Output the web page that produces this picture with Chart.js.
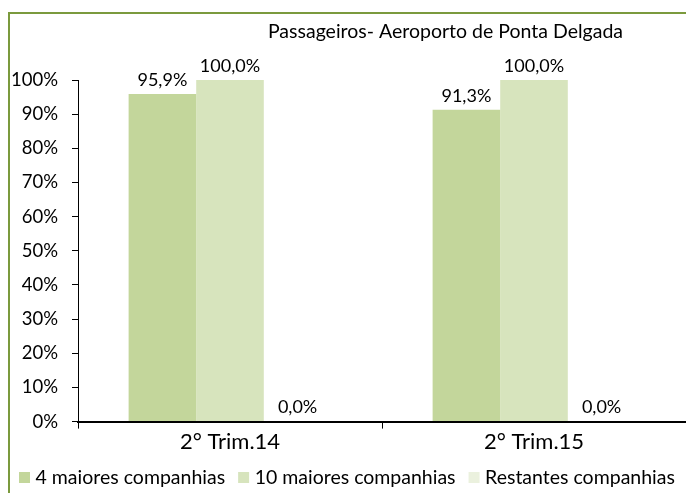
<!DOCTYPE html>
<html lang="pt-PT">
<head>
    <meta charset="UTF-8">
    <title>Passageiros- Aeroporto de Ponta Delgada</title>
    <script src="https://cdn.jsdelivr.net/npm/chart.js"></script>
    <style>
        html, body { margin: 0; padding: 0; overflow: hidden; background: #fff; }
        #moldura { position: absolute; left: 8px; top: 12px; width: 720px; height: 520px; border: 2px solid #7b9a3d; box-sizing: border-box; }
        #grafico { position: absolute; left: 0; top: 0; }
    </style>
</head>
<body>
    <div id="moldura"></div>
    <canvas id="grafico" width="686" height="493"></canvas>

    <script>
    // Dados
    const titulo = 'Passageiros- Aeroporto de Ponta Delgada';
    const trimestres = ['2\u00b0 Trim.14', '2\u00b0 Trim.15'];
    const maiores4 = [95.9, 91.3];
    const maiores10 = [100.0, 100.0];
    const restantes = [0.0, 0.0];

    const fonte = 'Lato, "Open Sans", sans-serif';

    // Rótulos de valor por cima das barras
    const rotulosValor = {
        id: 'rotulosValor',
        afterDatasetsDraw(chart) {
            const ctx = chart.ctx;
            ctx.save();
            ctx.font = '18px ' + fonte;
            ctx.fillStyle = '#000';
            ctx.textAlign = 'center';
            ctx.textBaseline = 'bottom';
            chart.data.datasets.forEach((ds, i) => {
                chart.getDatasetMeta(i).data.forEach((bar, j) => {
                    const txt = ds.data[j].toFixed(1).replace('.', ',') + '%';
                    ctx.fillText(txt, bar.x, bar.y - 5);
                });
            });
            ctx.restore();
        }
    };

    // Título e legenda desenhados à mão (a legenda do Chart.js não cabe numa linha)
    const tituloLegenda = {
        id: 'tituloLegenda',
        afterDraw(chart) {
            const ctx = chart.ctx;
            ctx.save();
            ctx.fillStyle = '#000';
            ctx.font = '19.5px ' + fonte;
            ctx.textAlign = 'right';
            ctx.textBaseline = 'middle';
            ctx.fillText(titulo, chart.chartArea.right - 63, 32);

            // legenda
            ctx.font = '19.5px ' + fonte;
            ctx.textAlign = 'left';
            let x = 19;
            const y = chart.height - 15;
            chart.data.datasets.forEach(ds => {
                ctx.fillStyle = ds.backgroundColor;
                ctx.fillRect(x, y - 6, 11, 11);
                ctx.fillStyle = '#000';
                ctx.fillText(ds.label, x + 16.5, y);
                x += 16.5 + ctx.measureText(ds.label).width + 13;
            });
            ctx.restore();
        }
    };

    const ctx = document.getElementById('grafico').getContext('2d');
    new Chart(ctx, {
        type: 'bar',
        data: {
            labels: trimestres,
            datasets: [
                { label: '4 maiores companhias', data: maiores4, backgroundColor: '#c3d69b' },
                { label: '10 maiores companhias', data: maiores10, backgroundColor: '#d7e4bd' },
                { label: 'Restantes companhias', data: restantes, backgroundColor: '#ebf1de' }
            ]
        },
        options: {
            responsive: false,
            animation: false,
            categoryPercentage: 0.667,
            barPercentage: 1.0,
            layout: { padding: { top: 80, left: 0, right: 0, bottom: 38 } },
            plugins: {
                legend: { display: false },
                title: { display: false },
                tooltip: { enabled: false }
            },
            scales: {
                x: {
                    grid: { drawOnChartArea: false, color: '#000', tickLength: 7 },
                    border: { color: '#000', width: 2 },
                    ticks: { color: '#000', padding: 0, font: { family: fonte, size: 22 } }
                },
                y: {
                    min: 0, max: 100,
                    afterFit(scale) { scale.width = 78; },
                    grid: { drawOnChartArea: false, color: '#000', tickLength: 6 },
                    border: { color: '#000', width: 1 },
                    ticks: { stepSize: 10, color: '#000', padding: 14, font: { family: fonte, size: 18.5 },
                             callback: v => v + '%' }
                }
            }
        },
        plugins: [rotulosValor, tituloLegenda]
    });
    </script>
</body>
</html>
